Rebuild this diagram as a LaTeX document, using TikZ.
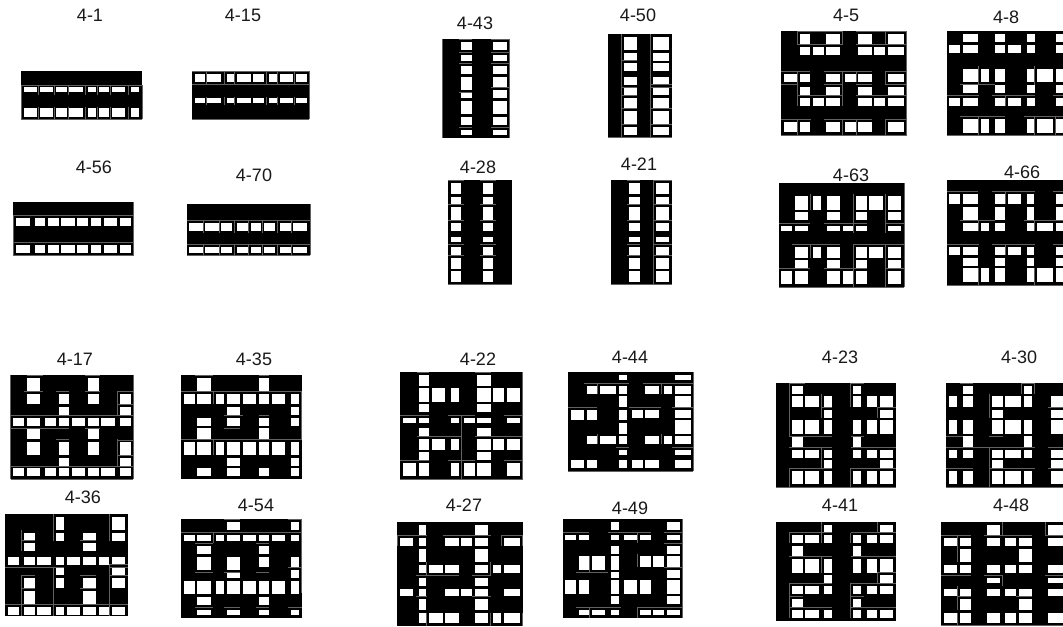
\documentclass[tikz,border=0pt]{standalone}
\usepackage{fontspec}
\setmainfont{Liberation Sans}
\tikzset{
  cellbox/.style={fill=white},
  rule/.style={draw=black!62,line width=0.3pt},
  lab/.style={font=\fontsize{13.5}{15}\selectfont,inner sep=0pt,text=black!90},
  zoomed/.style={x=0.25pt,y=-0.25pt}
}
% #1-#4 outer box, #5 left edges, #6 right edges, #7 rows: top/bottom/{columns}
\newcommand\pat[7]{%
  \fill[black] (#1,#2) rectangle (#3,#4);
  \foreach \ya/\yb/\cs in {#7}{%
    \foreach \c in \cs {%
      \pgfmathsetmacro\xa{{0,#5}[\c]}%
      \pgfmathsetmacro\xb{{0,#6}[\c]}%
      \fill[cellbox] (\xa,\ya) rectangle (\xb,\yb);
    }%
  }%
}
\newcommand\glh[1]{\foreach \p/\q/\r in {#1}{\draw[rule] (\q,\p) -- (\r,\p);}}
\newcommand\glv[1]{\foreach \p/\q/\r in {#1}{\draw[rule] (\p,\q) -- (\p,\r);}}
\newenvironment{zoomat}[2]{\begin{scope}[shift={(#1*0.75pt,-#2*0.75pt)},zoomed]}{\end{scope}}
\begin{document}
\begin{tikzpicture}[x=0.75pt,y=-0.75pt]
\useasboundingbox (0,0) rectangle (1063,626);
\clip (0,0) rectangle (1063,626);
\fill[white] (0,0) rectangle (1063,626);

\begin{zoomat}{0}{0}
\pat{63}{213}{427}{358}{71,120,167,208,265,296,336,392}{112,160,200,248,288,328,376,416}{262/277/{1,2,3,4,5,6,7,8},325/351/{1,2,3,4,5,6,7,8}}
\glh{255/63/427,358/63/427}
\glv{63/255/358,427/255/358,116/255/284,163/255/284,204/255/284,257/255/284,292/255/284,332/255/284,384/255/284,116/320/358,163/320/358,204/320/358,257/320/358,292/320/358,332/320/358,384/320/358}
\pat{576}{213}{928}{358}{584,622,680,712,760,808,840,888}{616,664,704,752,792,832,880,920}{222/247/{1,2,3,4,5,6,7,8},293/310/{1,2,3,4,5,6,7,8}}
\glh{213/576/928,254/576/928,358/576/928}
\glv{928/213/358,618/213/254,672/213/254,704/213/254,800/213/254,832/213/254,882/213/254,618/290/316,672/290/316,704/290/316,800/290/316,832/290/316,882/290/316}
\pat{40}{606}{400}{767}{48,104,144,184,232,272,312,360}{90,136,176,224,264,304,352,392}{654/678/{1,2,3,4,5,6,7,8},734/760/{1,2,3,4,5,6,7,8}}
\glh{646/40/400,726/40/400,767/40/400}
\glv{400/606/767,40/646/767}
\pat{560}{612}{930}{766}{568,616,664,712,752,792,840,880}{608,656,696,744,784,824,872,922}{670/694/{1,2,3,4,5,6,7,8},742/758/{1,2,3,4,5,6,7,8}}
\glh{662/560/930,733/560/930,766/560/930}
\glv{930/612/766,610/662/698,658/662/698,704/662/698,744/662/698,786/662/698,832/662/698,874/662/698,610/733/766,658/733/766,704/733/766,744/733/766,786/733/766,832/733/766,874/733/766}
\end{zoomat}

\begin{zoomat}{430}{0}
\pat{38}{117}{238}{413}{94,190}{126,230}{126/150/{1,2},166/182/{1,2},198/222/{1,2},230/270/{1},230/262/{2},278/294/{1},270/294/{2},302/342/{1,2},350/374/{1,2},390/406/{1,2}}
\glh{118/87/126,118/184/238,156/87/126,156/184/238,190/87/126,190/184/238,276/87/126,262/184/238,382/87/126,382/184/238}
\glv{38/117/413,238/117/413}
\pat{534}{102}{726}{413}{582,670}{622,718}{110/150/{1,2},158/182/{1,2},190/214/{1,2},230/254/{1,2},262/286/{1,2},294/326/{1,2},334/372/{1,2},382/406/{1,2}}
\glv{574/102/413,661/102/413}
\glh{182/574/622,262/574/622,262/661/726,286/574/622,326/574/622,326/661/726,374/574/622,374/661/726,254/661/726,413/534/726}
\pat{54}{540}{246}{854}{62,158}{94,190}{550/582/{1,2},590/614/{1,2},622/662/{1,2},670/694/{1,2},710/726/{1,2},742/766/{1,2},774/806/{1,2},814/846/{1,2}}
\glh{541/54/102,541/150/198,614/54/102,614/150/198,662/54/102,662/150/198,734/54/102,734/150/198,766/54/102,766/150/198,854/54/246}
\pat{542}{540}{726}{854}{598,678}{630,718}{550/582/{1,2},590/614/{1,2},622/662/{1,2},670/694/{1,2},710/726/{1,2},742/766/{1,2},774/806/{1,2},814/846/{1,2}}
\glh{541/590/630,541/670/726,614/590/630,614/670/726,662/590/630,662/670/726,734/590/630,734/670/726,766/590/630,766/670/726,854/542/726}
\glv{670/540/854}
\end{zoomat}

\begin{zoomat}{770}{0}
\pat{33}{94}{410}{406}{41,89,129,169,225,265,313,353}{81,121,161,211,257,306,345,403}{101/131/{2,4,6,8},141/165/{2,3,4,6,7,8},221/245/{1,2,4,5,6,8},261/285/{2,4,6,8},293/317/{2,3,4,6,7,8},365/397/{1,2,4,5,6,8}}
\glh{94/82/218,94/258/410,133/82/218,133/258/410,213/33/120,213/162/306,213/346/410,252/33/82,252/162/218,252/258/306,252/346/410,286/82/218,286/258/410,358/33/122,358/162/306,358/346/410,406/33/410}
\glv{82/94/134,218/94/133,346/94/133,82/213/317,218/213/317,258/213/245,82/358/406,218/358/406,258/358/406,346/358/406,346/213/252,410/94/406}
\pat{530}{94}{900}{406}{538,578,634,674,714,770,802,858}{570,624,658,706,754,794,848,900}{102/126/{2,4,6,8},134/158/{1,2,4,5,6,8},206/246/{2,3,4,6,7,8},254/278/{2,4,6,8},294/318/{1,2,4,5,6,8},358/398/{2,3,4,6,7,8}}
\glh{350/570/706,350/762/879,286/530/626,286/666/794,286/850/879,254/570/674,406/530/879}
\glv{626/198/254,794/198/254,706/286/318,626/350/406,794/350/406,855/350/406}
\end{zoomat}

\begin{zoomat}{770}{150}
\pat{26}{99}{402}{412}{34,74,130,170,218,258,298,354}{66,114,154,210,250,290,338,394}{139/179/{2,3,4,6,7,8},187/211/{2,4,6,8},227/243/{1,2,4,5,6,8},291/323/{2,3,4,6,7,8},331/355/{2,4,6,8},363/403/{1,2,4,5,6,8}}
\glh{219/26/120,219/162/290,219/346/402,283/66/210,283/250/402,355/26/120,355/162/290,355/346/402,412/26/402}
\glv{122/132/180,250/132/250,346/132/250,122/283/323,250/283/412,346/283/412,402/99/412}
\pat{530}{90}{900}{405}{538,578,634,674,714,770,802,858}{570,624,658,706,754,792,848,900}{131/163/{1,2,4,5,6,8},171/211/{2,4,6,8},219/243/{2,3,4,6,7,8},291/315/{1,2,4,5,6,8},323/347/{2,4,6,8},355/397/{2,3,4,6,7,8}}
\glh{123/530/624,123/666/794,123/850/879,211/570/674,211/762/879,283/530/626,283/666/794,283/850/879,405/530/879}
\glv{706/123/163,626/211/243,794/211/243,706/283/315,626/355/405,794/355/405}
\end{zoomat}

\begin{zoomat}{0}{340}
\pat{32}{105}{400}{418}{40,80,136,176,216,264,304,360}{72,120,168,206,256,296,344,392}{113/153/{2,6},161/193/{2,4,6,8},201/225/{4,8},233/257/{1,2,3,4,5,6,7,8},265/297/{2,6},305/345/{2,4,6,8},353/377/{4,8},385/409/{1,2,3,4,5,6,7,8}}
\glh{105/80/128,105/256/300,153/72/128,153/168/208,153/256/300,153/352/400,193/352/400,226/32/400,265/32/208,265/256/300,297/168/208,300/352/400,345/352/400,380/32/400,418/32/400}
\glv{32/105/418,400/105/418,352/153/226,352/298/380}
\pat{543}{105}{905}{418}{552,592,648,680,728,776,816,872}{584,632,672,720,768,808,856,896}{113/153/{2,6},161/193/{1,2,3,4,5,6,7,8},201/225/{4,8},233/257/{2,4,6,8},265/297/{2,6},305/345/{1,2,3,4,5,6,7,8},353/377/{4,8},385/409/{2,4,6,8}}
\glh{105/584/640,105/776/808,153/543/905,226/672/728,226/776/808,265/672/720,297/543/905}
\glv{905/153/297,640/153/193,640/297/345}
\end{zoomat}

\begin{zoomat}{0}{480}
\pat{15}{102}{384}{408}{24,72,112,168,200,248,296,336}{56,104,152,192,240,288,328,376}{110/150/{4,8},158/182/{2,4,6,8},190/214/{2,6},230/254/{1,2,3,4,5,6,7,8},262/286/{4,8},294/324/{2,4,6,8},332/372/{2,6},381/405/{1,2,3,4,5,6,7,8}}
\glh{182/64/104,182/240/288,262/15/192,262/328/384,286/64/104,286/240/288,286/328/384,253/328/384,325/64/104,325/240/288,373/15/384}
\glv{64/150/214,160/102/182,328/102/182,64/286/408,160/262/408,328/253/408}
\pat{543}{118}{905}{413}{552,592,648,680,728,776,816,872}{584,632,672,720,768,808,856,896}{125/150/{4,8},165/182/{1,2,3,4,5,6,7,8},198/222/{2,6},230/270/{2,4},230/262/{6,8},278/294/{4},270/294/{8},302/342/{1,2,3,4,5,6,7,8},350/374/{2,6},390/405/{2,4,6,8}}
\glh{118/672/720,118/864/905,157/543/905,190/584/640,190/768/808,278/584/640,278/672/720,278/768/808,262/864/905,381/584/640,381/672/720,381/768/808,381/864/905}
\glv{640/157/190,905/118/340}
\end{zoomat}

\begin{zoomat}{390}{340}
\pat{30}{97}{398}{417}{38,86,126,182,222,262,310,350}{78,118,166,206,254,302,342,390}{105/137/{2,6},145/185/{2,3,4,6,7,8},193/217/{2,6},233/249/{1,2,4,5,6,8},265/289/{2,6},297/329/{2,3,4,6,7,8},337/361/{2,6},369/409/{1,2,4,5,6,8}}
\glh{97/80/118,97/256/302,226/30/118,226/174/254,226/342/398,289/80/212,289/256/398,361/30/118,361/174/254,361/342/398,417/30/398}
\glv{214/226/417,398/97/417}
\pat{535}{97}{910}{393}{542,590,630,686,726,766,822,854}{582,622,678,710,758,806,846,902}{105/121/{4,8},137/161/{2,3,4,6,7,8},169/201/{4,8},209/241/{1,2,4},209/233/{5,6,8},249/281/{4},241/281/{8},289/313/{2,3,4,6,7,8},329/345/{4,8},361/385/{1,2,4,5,6,8}}
\glh{130/582/718,130/758/910,202/535/622,202/718/814,202/846/910,322/678/718,322/846/910,393/535/910}
\glv{622/130/161,814/130/161,622/281/313,814/281/313,910/97/393}
\end{zoomat}

\begin{zoomat}{390}{480}
\pat{22}{126}{398}{438}{30,86,118,166,214,254,310,342}{70,108,158,206,246,294,334,390}{134/166/{2,6},174/198/{1,2,4,5,6,8},206/246/{2,6},254/278/{2,3,4,6,7,8},294/318/{2,6},326/348/{1,2,4,5,6,8},358/390/{2,6},398/430/{2,3,4,6,7,8}}
\glh{166/22/110,166/158/302,166/334/398,286/78/206,286/246/302,350/78/110,350/246/302}
\glv{22/166/198,398/166/198,334/166/198,110/246/285,302/246/285,110/398/438,302/398/438,398/398/438}
\pat{518}{117}{878}{413}{526,566,606,662,702,750,790,830}{558,598,646,686,742,782,822,870}{125/149/{4,8},165/181/{1,2,4,5,6,8},197/221/{4,8},229/269/{2,3,4},229/261/{6,7,8},277/293/{4},269/293/{8},301/341/{1,2,4,5,6,8},349/373/{4,8},389/405/{2,3,4,6,7,8}}
\glh{157/518/598,157/654/782,157/822/878,189/822/878,277/558/654,261/822/878,381/558/694,381/742/878}
\glv{742/157/189,598/229/277,742/221/261,598/381/413,742/381/413,878/117/413}
\end{zoomat}

\begin{zoomat}{770}{340}
\pat{18}{129}{378}{442}{66,106,162,250,290,330}{98,146,186,274,322,370}{137/161/{1,4},169/201/{1,2,3,4,5,6},209/233/{3,6},241/281/{1,2,3,4,5,6},289/321/{1,4},329/353/{1,2,3,4,5,6},361/385/{3,6},393/433/{1,2,3,4,5,6}}
\glh{129/58/106,129/242/282,201/154/186,201/322/378,289/58/186,289/242/282,321/58/186,321/242/378,385/58/186,385/242/378,442/18/378}
\glv{58/129/289,242/129/200,154/161/233,322/201/233,154/321/385,58/385/442,242/385/442}
\pat{528}{129}{900}{442}{536,578,666,706,762,842}{560,610,698,754,786,900}{137/161/{2,5},169/201/{1,2,3,4,5,6},209/233/{3,6},241/281/{1,2,3,4,5,6},289/321/{2,5},329/353/{1,2,3,4,5,6},361/385/{3,6},393/433/{1,2,3,4,5,6}}
\glh{129/570/610,129/754/794,201/834/900,289/528/578,289/658/698,321/528/794,321/834/900,385/528/610,385/658/794,385/834/900,442/528/879}
\glv{658/161/233,754/129/161,794/129/161,658/321/385,658/385/442}
\end{zoomat}

\begin{zoomat}{770}{480}
\pat{18}{126}{378}{422}{66,106,162,250,290,330}{98,146,186,274,322,370}{134/158/{3,6},166/190/{1,2,3,4,5,6},198/230/{1,4},238/278/{1,2,3,4,5,6},286/310/{3,6},318/342/{1,2,3,4,5,6},358/382/{1,4},390/414/{1,2,3,4,5,6}}
\glh{158/58/186,158/242/378,230/58/186,230/242/378,278/322/378,310/58/186,310/242/378,350/58/98,350/242/282,382/58/186,382/242/378}
\glv{154/126/190,322/126/158,154/230/278,322/278/310,58/158/190,242/158/190,58/310/414,242/310/414}
\pat{514}{126}{900}{437}{522,570,650,706,746,834}{562,602,690,738,786,900}{134/166/{3,6},174/198/{1,2,3,4,5,6},206/246/{2,5},254/278/{1,2,3,4,5,6},294/310/{3,6},326/348/{1,2,3,4,5,6},358/390/{2,5},398/430/{1,2,3,4,5,6}}
\glh{166/514/602,166/642/786,166/826/879,286/514/602,286/642/698,286/826/879,350/562/602,350/738/786,437/514/879}
\glv{562/166/246,698/286/318,562/318/390,562/398/437,698/126/166,826/126/166}
\end{zoomat}

\foreach \nm/\tx/\lx/\ly in {
 a/4-1/90/15, b/4-15/243/15, c/4-56/94/167, d/4-70/254/175,
 e/4-43/475/23, f/4-50/638/15, g/4-28/478/167, h/4-21/639/164,
 i/4-5/846/15, j/4-8/1006/17, k/4-63/851/175, l/4-66/1022/172,
 m/4-17/75/359, n/4-35/254/359, o/4-36/83/497, p/4-54/256/505,
 q/4-22/478/359, r/4-44/630/357, s/4-27/464/505, t/4-49/630/508,
 u/4-23/840/357, v/4-30/1019/357, w/4-41/840/505, x/4-48/1011/505}{
  \node[lab] (\nm) at (\lx,\ly) {\tx};
}
\end{tikzpicture}
\end{document}
